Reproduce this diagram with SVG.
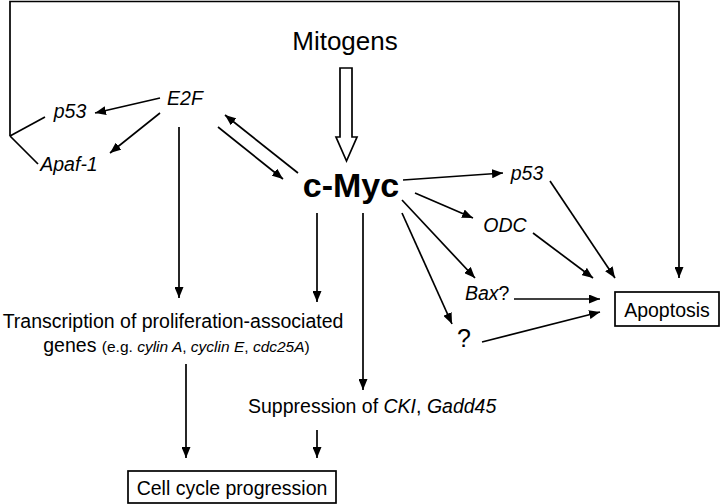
<svg xmlns="http://www.w3.org/2000/svg" width="720" height="504" viewBox="0 0 720 504">
<defs>
<marker id="ah" markerUnits="userSpaceOnUse" markerWidth="11" markerHeight="9" refX="11" refY="4.5" orient="auto">
<path d="M0,0 L11,4.5 L0,9 z" fill="#000"/>
</marker>
<style>
text{font-family:"Liberation Sans",Arial,sans-serif;fill:#000}
.t{font-size:19.5px}
.i{font-style:italic}
.c line,.c polyline{stroke:#000;stroke-width:1.7;fill:none}
.a{marker-end:url(#ah)}
.box{fill:#fff;stroke:#000;stroke-width:1.7}
</style>
</defs>
<rect width="720" height="504" fill="#fff"/>
<g class="c" id="connectors">
<polyline points="10,136 10,1.5 679,1.5 679,278" class="a"/>
<line x1="10" y1="136" x2="45" y2="117"/>
<line x1="10" y1="136" x2="38" y2="164"/>
<line x1="160" y1="98" x2="95" y2="113" class="a"/>
<line x1="160" y1="113" x2="110" y2="153" class="a"/>
<line x1="179" y1="127" x2="179" y2="298" class="a"/>
<line x1="298" y1="173" x2="225" y2="115" class="a"/>
<line x1="218" y1="127" x2="283" y2="179" class="a"/>
<line x1="317" y1="213" x2="317" y2="302" class="a"/>
<line x1="363" y1="213" x2="363" y2="390" class="a"/>
<line x1="403" y1="180" x2="503" y2="173" class="a"/>
<line x1="415" y1="193" x2="473" y2="218" class="a"/>
<line x1="402" y1="200" x2="475" y2="278" class="a"/>
<line x1="402" y1="213" x2="452" y2="324" class="a"/>
<line x1="550" y1="181" x2="615" y2="278" class="a"/>
<line x1="533" y1="233" x2="593" y2="278" class="a"/>
<line x1="514" y1="299" x2="600" y2="299" class="a"/>
<line x1="482" y1="342" x2="600" y2="312" class="a"/>
<line x1="186" y1="364" x2="186" y2="458" class="a"/>
<line x1="317" y1="430" x2="317" y2="458" class="a"/>
<polygon points="340,68 352,68 352,137 357,137 346.5,161 336,137 340,137" fill="#fff" stroke="#000" stroke-width="1.7"/>
</g>
<g id="mitogens"><text x="345" y="50" font-size="26" text-anchor="middle">Mitogens</text></g>
<g id="cmyc"><text x="351" y="197" font-size="34" font-weight="bold" text-anchor="middle">c-Myc</text></g>
<g id="e2f"><text x="185" y="105" class="t i" text-anchor="middle">E2F</text></g>
<g id="p53-left"><text x="70" y="118" class="t i" text-anchor="middle">p53</text></g>
<g id="apaf1"><text x="69" y="171" class="t i" text-anchor="middle">Apaf-1</text></g>
<g id="p53-right"><text x="527" y="180" class="t i" text-anchor="middle">p53</text></g>
<g id="odc"><text x="505" y="232" class="t i" text-anchor="middle">ODC</text></g>
<g id="bax"><text x="465" y="300" class="t"><tspan class="i">Bax</tspan>?</text></g>
<g id="unknown"><text x="464" y="347" font-size="25" text-anchor="middle">?</text></g>
<g id="apoptosis"><rect x="615" y="292" width="104" height="34" class="box"/><text x="667" y="317" class="t" text-anchor="middle">Apoptosis</text></g>
<g id="transcription">
<text x="173" y="328" class="t" text-anchor="middle">Transcription of proliferation-associated</text>
<text x="176.5" y="352" class="t" text-anchor="middle">genes <tspan font-size="15.5">(e.g. <tspan class="i">cylin A</tspan>, <tspan class="i">cyclin E</tspan>, <tspan class="i">cdc25A</tspan>)</tspan></text>
</g>
<g id="suppression"><text x="248" y="413" class="t">Suppression of <tspan class="i">CKI</tspan>, <tspan class="i">Gadd45</tspan></text></g>
<g id="cellcycle"><rect x="128" y="471" width="208" height="32" class="box"/><text x="232" y="495" class="t" text-anchor="middle">Cell cycle progression</text></g>
</svg>
